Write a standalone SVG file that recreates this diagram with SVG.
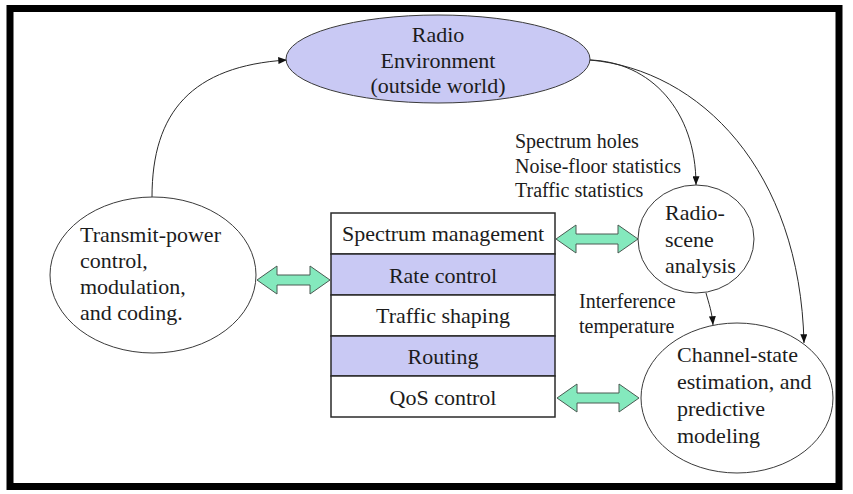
<svg xmlns="http://www.w3.org/2000/svg" width="853" height="494" viewBox="0 0 853 494">
  <style>
    text { font-family: 'Liberation Serif', Tinos, 'DejaVu Serif', serif; fill: #1c1c1c; }
    .lbl { font-size: 22px; }
    .note { font-size: 20px; }
    .mid { text-anchor: middle; }
    .node { stroke: #3a3a3a; stroke-width: 1; }
    .lav { fill: #c9c9f4; }
    .wht { fill: #ffffff; }
    .link { fill: none; stroke: #2a2a2a; stroke-width: 1; }
    .dbl { fill: #84e9bd; stroke: #4a5a52; stroke-width: 1; }
    .row { stroke: #2a2a2a; stroke-width: 1.5; }
  </style>
  <defs>
    <marker id="tip" viewBox="0 0 10 8" refX="10" refY="4" markerWidth="9" markerHeight="7" markerUnits="userSpaceOnUse" orient="auto">
      <path d="M0,0 L10,4 L0,8 Z" fill="#111"/>
    </marker>
  </defs>

  <rect x="0" y="0" width="853" height="494" fill="#ffffff"/>
  <!-- outer frame -->
  <rect x="10" y="8.5" width="829" height="478" fill="none" stroke="#000" stroke-width="7"/>

  <!-- connectors -->
  <g id="connectors">
    <path class="link" d="M152,197 C152,112 192,66 287,60" marker-end="url(#tip)"/>
    <path class="link" d="M590,60 C650,62 696,110 696,185" marker-end="url(#tip)"/>
    <path class="link" d="M590,60 C700,70 800,170 804,343" marker-end="url(#tip)"/>
    <path class="link" d="M706,293 C709,304 712,312 713,325" marker-end="url(#tip)"/>
    <!-- two-way block arrows -->
    <path class="dbl" d="M257,280 L277,266 L277,275 L310,275 L310,266 L330,280 L310,294 L310,285 L277,285 L277,294 Z"/>
    <path class="dbl" d="M556,239 L576,225 L576,234 L618,234 L618,225 L638,239 L618,253 L618,244 L576,244 L576,253 Z"/>
    <path class="dbl" d="M557,398 L577,384 L577,393 L619,393 L619,384 L639,398 L619,412 L619,403 L577,403 L577,412 Z"/>
  </g>

  <!-- radio environment -->
  <g id="radio-environment">
    <ellipse class="node lav" cx="438" cy="59" rx="152" ry="44"/>
    <text class="lbl mid" x="438" y="42">Radio</text>
    <text class="lbl mid" x="438" y="68">Environment</text>
    <text class="lbl mid" x="438" y="93">(outside world)</text>
  </g>

  <!-- transmitter side -->
  <g id="transmit-power">
    <ellipse class="node wht" cx="153" cy="275" rx="103" ry="78"/>
    <text class="lbl" x="80" y="242">Transmit-power</text>
    <text class="lbl" x="80" y="268">control,</text>
    <text class="lbl" x="80" y="294">modulation,</text>
    <text class="lbl" x="80" y="320">and coding.</text>
  </g>

  <!-- protocol stack -->
  <g id="stack">
    <rect class="row wht" x="331" y="213" width="224" height="41"/>
    <rect class="row lav" x="331" y="254" width="224" height="41"/>
    <rect class="row wht" x="331" y="295" width="224" height="41"/>
    <rect class="row lav" x="331" y="336" width="224" height="40"/>
    <rect class="row wht" x="331" y="376" width="224" height="41"/>
    <text class="lbl mid" x="443" y="241">Spectrum management</text>
    <text class="lbl mid" x="443" y="283">Rate control</text>
    <text class="lbl mid" x="443" y="323">Traffic shaping</text>
    <text class="lbl mid" x="443" y="364">Routing</text>
    <text class="lbl mid" x="443" y="405">QoS control</text>
  </g>

  <!-- receiver side -->
  <g id="radio-scene">
    <ellipse class="node wht" cx="696" cy="239" rx="58" ry="54"/>
    <text class="lbl" x="665" y="220">Radio-</text>
    <text class="lbl" x="665" y="247">scene</text>
    <text class="lbl" x="665" y="273">analysis</text>
  </g>

  <g id="channel-state">
    <ellipse class="node wht" cx="737" cy="398" rx="96" ry="75"/>
    <text class="lbl" x="677" y="362">Channel-state</text>
    <text class="lbl" x="677" y="389">estimation, and</text>
    <text class="lbl" x="677" y="416">predictive</text>
    <text class="lbl" x="677" y="443">modeling</text>
  </g>

  <g id="scene-outputs">
    <text class="note" x="515" y="148">Spectrum holes</text>
    <text class="note" x="515" y="173">Noise-floor statistics</text>
    <text class="note" x="515" y="197">Traffic statistics</text>
  </g>

  <g id="interference-label">
    <text class="note" x="579" y="308">Interference</text>
    <text class="note" x="579" y="333">temperature</text>
  </g>
</svg>
